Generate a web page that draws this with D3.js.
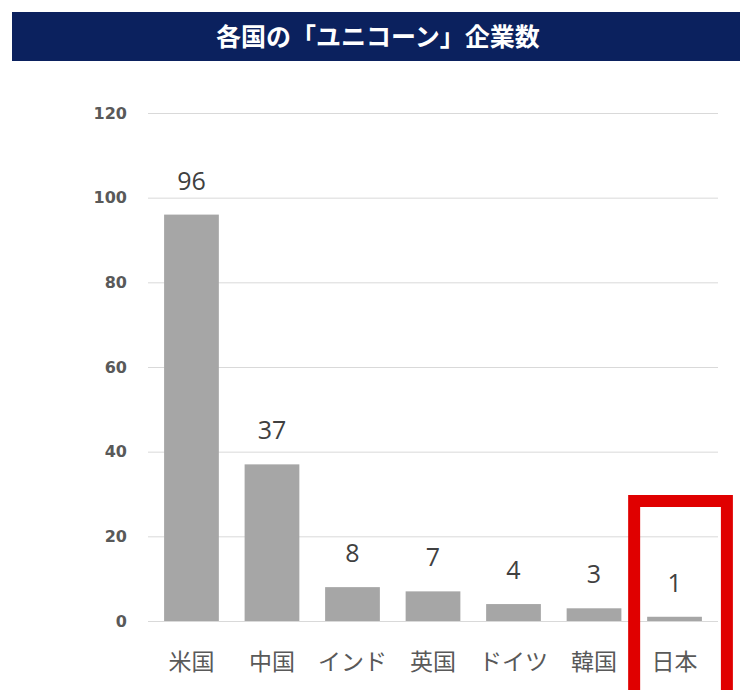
<!DOCTYPE html>
<html>
<head>
<meta charset="utf-8">
<script src="https://cdn.jsdelivr.net/npm/d3@7"></script>
<style>
  body { margin: 0; background: #fff; }
  svg { display: block; }
</style>
</head>
<body>
<div id="chart"></div>
<script>
// 各国のユニコーン企業数
var countries = ["米国", "中国", "インド", "英国", "ドイツ", "韓国", "日本"];
var counts = [96, 37, 8, 7, 4, 3, 1];
var yTicks = [0, 20, 40, 60, 80, 100, 120];
var title = "各国の「ユニコーン」企業数";
var highlight = "日本";

var width = 740, height = 690;
var svg = d3.select("#chart").append("svg")
    .attr("width", width)
    .attr("height", height);

// タイトルバー
svg.append("rect")
    .attr("x", 12).attr("y", 12)
    .attr("width", width - 12).attr("height", 49)
    .attr("fill", "#0b215e");
svg.append("text")
    .attr("x", 378).attr("y", 46)
    .attr("text-anchor", "middle")
    .attr("fill", "#fff")
    .style("font-family", "'Noto Sans CJK JP', sans-serif")
    .style("font-weight", "bold")
    .style("font-size", "25px")
    .text(title);

var x = d3.scaleBand()
    .domain(countries)
    .range([148, 718])
    .paddingInner(0.32)
    .paddingOuter(0.2);

var y = d3.scaleLinear()
    .domain([0, 120])
    .range([621, 113]);

// 目盛線
svg.append("g")
    .selectAll("line")
    .data(yTicks)
    .join("line")
    .attr("x1", 148).attr("x2", 718)
    .attr("y1", d => y(d) + 0.5).attr("y2", d => y(d) + 0.5)
    .attr("stroke", "#d9d9d9")
    .attr("stroke-width", 1);

// y軸ラベル
svg.append("g")
    .selectAll("text")
    .data(yTicks)
    .join("text")
    .attr("x", 127)
    .attr("y", d => y(d))
    .attr("dy", "0.36em")
    .attr("text-anchor", "end")
    .attr("fill", "#595959")
    .style("font-family", "'DejaVu Sans', Verdana, sans-serif")
    .style("font-weight", "bold")
    .style("font-size", "16px")
    .text(d => d);

// 棒
svg.append("g")
    .selectAll("rect")
    .data(counts)
    .join("rect")
    .attr("x", (d, i) => x(countries[i]))
    .attr("y", d => y(d))
    .attr("width", x.bandwidth())
    .attr("height", d => y(0) - y(d))
    .attr("fill", "#a6a6a6");

// 値ラベル
svg.append("g")
    .selectAll("text")
    .data(counts)
    .join("text")
    .attr("x", (d, i) => x(countries[i]) + x.bandwidth() / 2)
    .attr("y", d => y(d) - 25)
    .attr("text-anchor", "middle")
    .attr("fill", "#404040")
    .style("font-family", "'Open Sans', 'Noto Sans', sans-serif")
    .style("font-size", "25px")
    .text(d => d);

// x軸ラベル
svg.append("g")
    .selectAll("text")
    .data(countries)
    .join("text")
    .attr("x", d => x(d) + x.bandwidth() / 2)
    .attr("y", 670)
    .attr("text-anchor", "middle")
    .attr("fill", "#595959")
    .style("font-family", "'Noto Sans CJK JP', sans-serif")
    .style("font-size", "23px")
    .text(d => d);

// 日本を赤枠で強調
var hx = x(highlight);
svg.append("rect")
    .attr("x", hx - 13)
    .attr("y", 501)
    .attr("width", x.bandwidth() + 26 + 12)
    .attr("height", 220)
    .attr("fill", "none")
    .attr("stroke", "#e00000")
    .attr("stroke-width", 12);
</script>
</body>
</html>
